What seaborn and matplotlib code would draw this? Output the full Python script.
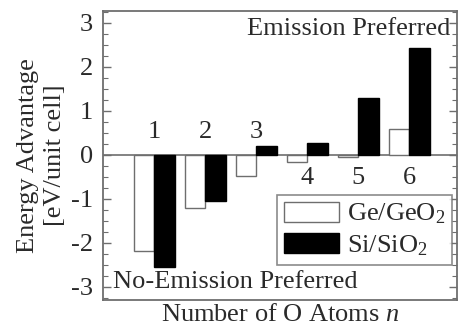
import matplotlib
matplotlib.use("Agg")
import matplotlib.pyplot as plt
import seaborn as sns
import pandas as pd
from matplotlib.ticker import MultipleLocator
from matplotlib.patches import Patch

# Data
n_atoms = ["1", "2", "3", "4", "5", "6"]
ge_geo2 = [-2.18, -1.20, -0.47, -0.17, -0.05, 0.58]
si_sio2 = [-2.54, -1.05, 0.19, 0.27, 1.29, 2.42]
series_names = ["Ge/GeO$_2$", "Si/SiO$_2$"]

df = pd.DataFrame({
    "n": n_atoms * 2,
    "value": ge_geo2 + si_sio2,
    "material": [series_names[0]] * len(n_atoms) + [series_names[1]] * len(n_atoms),
})

sns.set_style("ticks")
plt.rcParams["font.family"] = ["Liberation Serif", "DejaVu Serif"]
plt.rcParams["mathtext.fontset"] = "custom"
plt.rcParams["mathtext.rm"] = "Liberation Serif"
plt.rcParams["mathtext.it"] = "Liberation Serif:italic"

txt_color = "#2a2a2a"
gray = "#6e6e6e"
fs = 19

fig = plt.figure(figsize=(4.58, 3.27), dpi=100)
ax = fig.add_axes([103 / 458, 27 / 327, 354 / 458, 289 / 327])

sns.barplot(data=df, x="n", y="value", hue="material", order=n_atoms,
            hue_order=series_names, palette=["white", "black"],
            width=0.8, ax=ax, legend=False, saturation=1)

for i, p in enumerate(ax.patches):
    if i < len(n_atoms):
        p.set_edgecolor(gray)
        p.set_linewidth(1.0)
    else:
        p.set_edgecolor("black")
        p.set_linewidth(1.0)

ax.axhline(0, color=gray, lw=1.2, zorder=0.5)

ax.set_xlim(-1.0, 5.93)
ax.set_ylim(-3.3, 3.27)
ax.set_xticks([])
ax.yaxis.set_major_locator(MultipleLocator(1))
ax.yaxis.set_minor_locator(MultipleLocator(0.25))
ax.tick_params(axis="y", which="both", direction="in", left=True, right=True,
               colors=gray, labelcolor=txt_color, labelsize=fs, pad=7)
ax.tick_params(axis="y", which="major", length=6, width=1)
ax.tick_params(axis="y", which="minor", length=3.5, width=0.8)
ax.set_yticks([-3, -2, -1, 0, 1, 2, 3])
ax.set_yticklabels(["-3", "-2", "-1", "0", "1", "2", "3"])

for s in ax.spines.values():
    s.set_color(gray)
    s.set_linewidth(1.3)

ax.set_xlabel("Number of O Atoms $n$", fontsize=fs, color=txt_color, labelpad=3)
ax.set_ylabel("Energy Advantage\n[eV/unit cell]", fontsize=fs, color=txt_color,
              labelpad=4, linespacing=1.25)

# n labels
for i, lab in enumerate(n_atoms):
    y = 0.52 if i < 3 else -0.52
    ax.text(i, y, lab, ha="center", va="center", fontsize=fs, color=txt_color)

ax.text(5.81, 2.86, "Emission Preferred", ha="right", va="center",
        fontsize=fs, color=txt_color)
ax.text(-0.81, -2.89, "No-Emission Preferred", ha="left", va="center",
        fontsize=fs, color=txt_color)

handles = [Patch(facecolor="white", edgecolor=gray, lw=1.0),
           Patch(facecolor="black", edgecolor="black", lw=1.0)]
leg = ax.legend(handles, series_names, loc="upper right",
                bbox_to_anchor=(452 / 458, 1 - 195 / 327),
                bbox_transform=fig.transFigure, borderaxespad=0,
                fontsize=fs, frameon=True, fancybox=False,
                handlelength=2.1, handleheight=0.8, handletextpad=0.3,
                borderpad=0.25, labelspacing=0.25)
leg.get_frame().set_edgecolor(gray)
leg.get_frame().set_linewidth(1.2)
for t in leg.get_texts():
    t.set_color(txt_color)

fig.savefig("out.png", dpi=100)
